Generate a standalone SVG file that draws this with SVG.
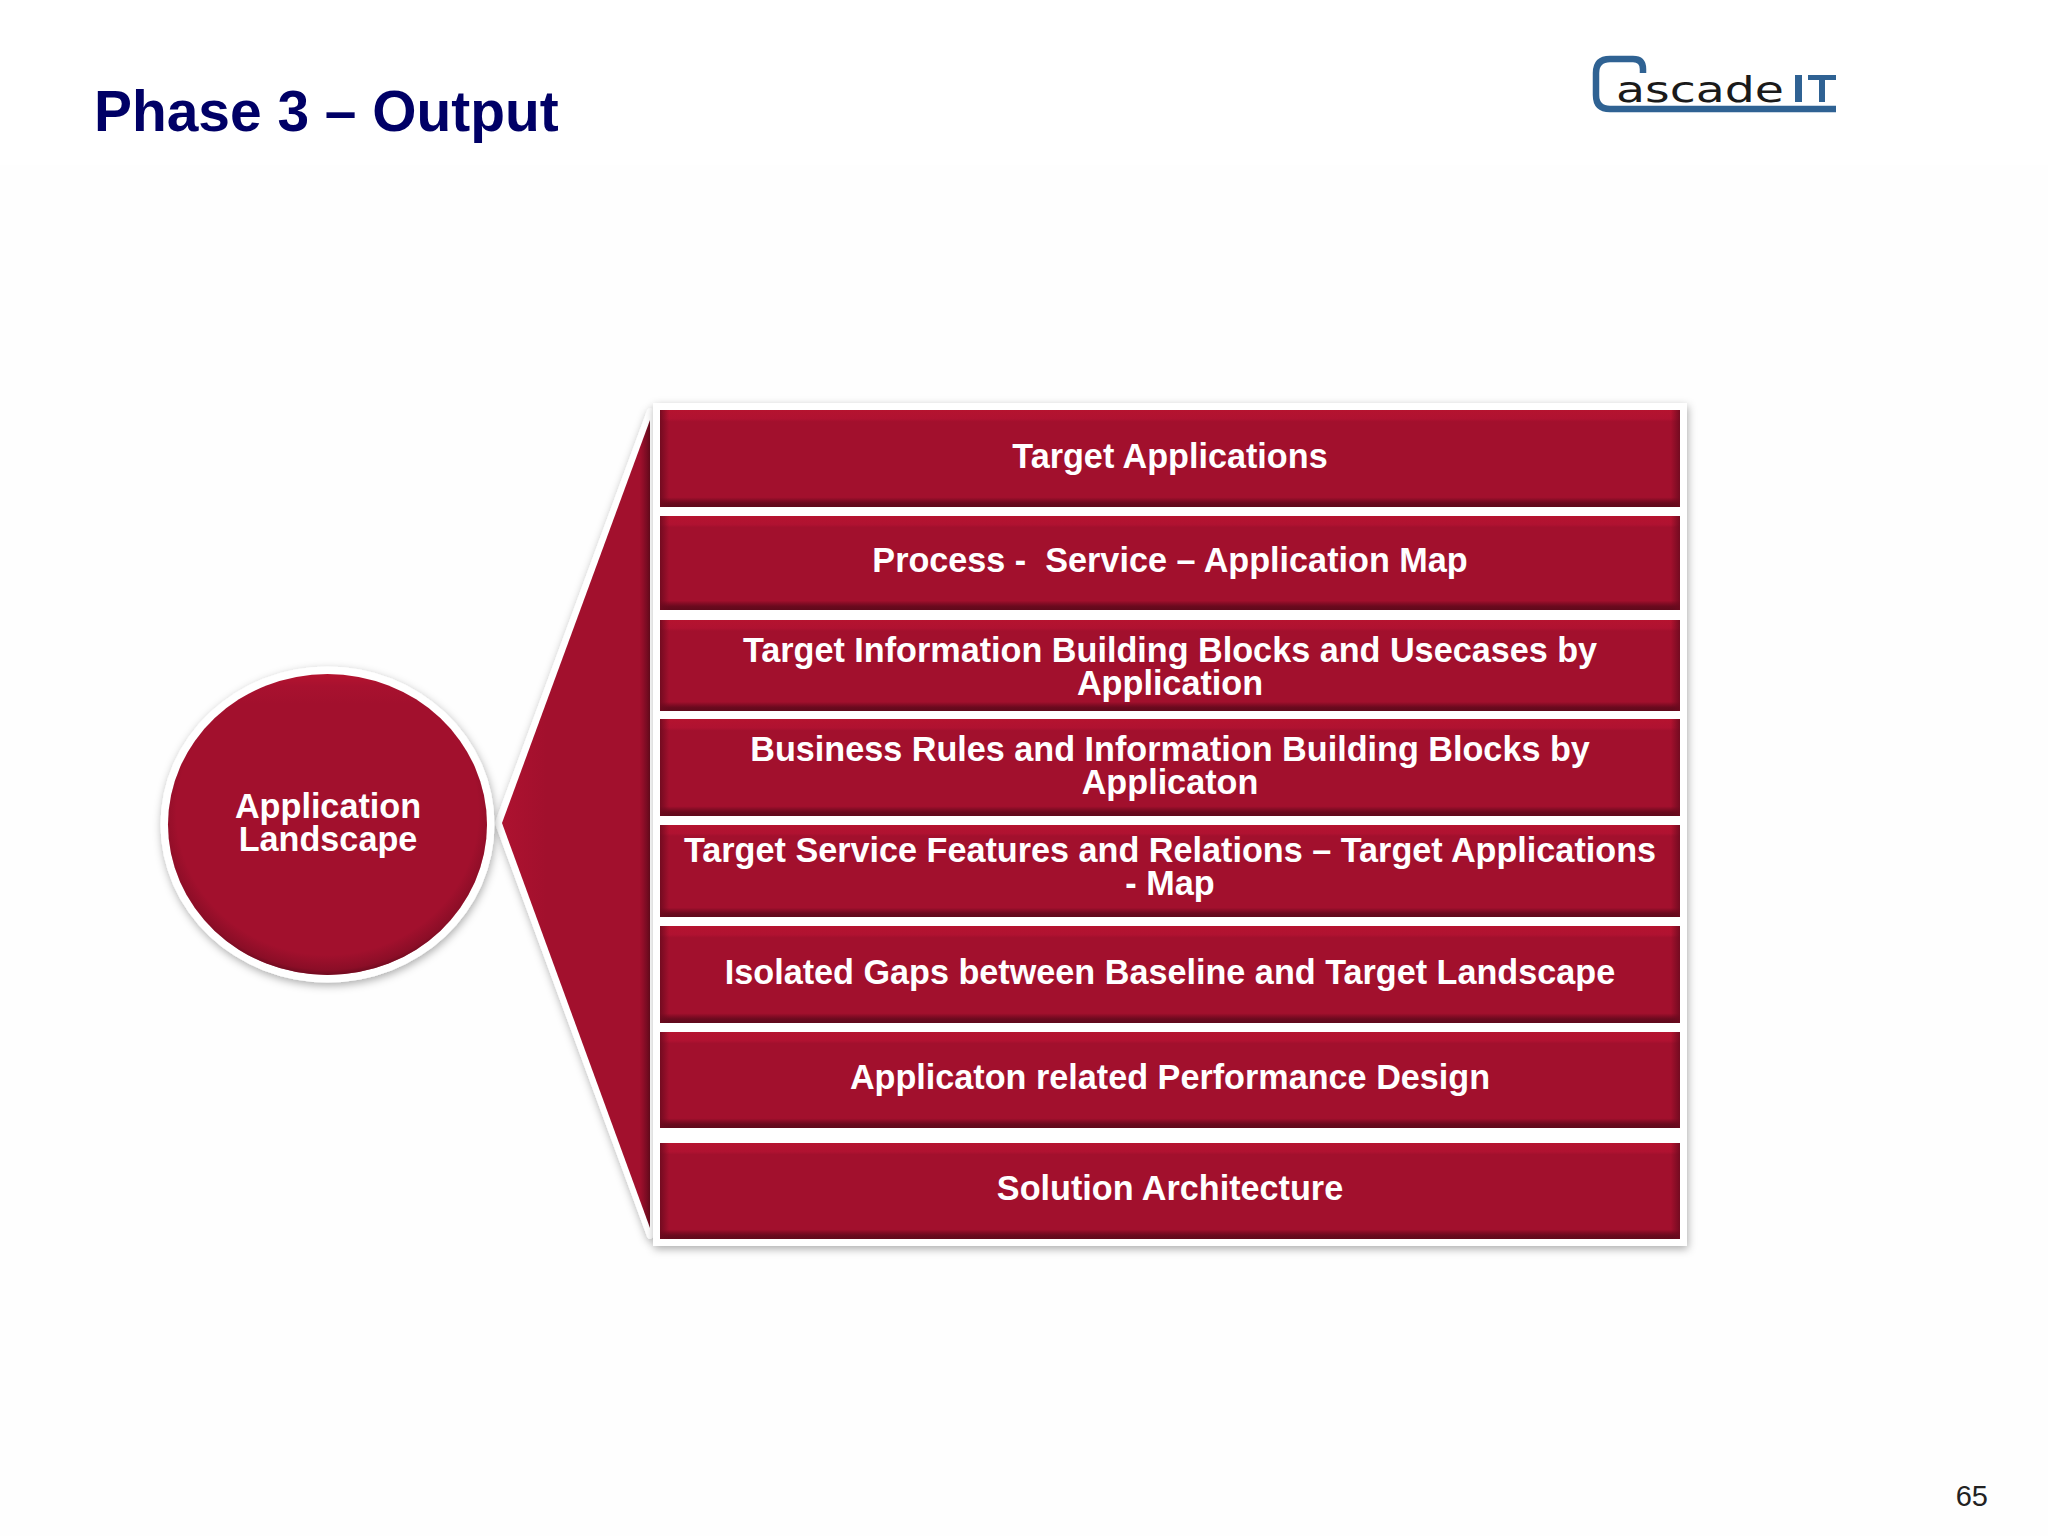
<svg xmlns="http://www.w3.org/2000/svg" width="2048" height="1536" viewBox="0 0 2048 1536">
<style>
text{font-family:"Liberation Sans",Arial,sans-serif}
.t{font-size:34.2px;font-weight:700;fill:#fff;text-anchor:middle;white-space:pre}
.w{fill:#fff;filter:url(#sh)}
.r{fill:url(#v)}
.o{fill:url(#h)}
</style>
<defs>
<filter id="sh" x="-10%" y="-10%" width="120%" height="120%"><feDropShadow dx="1" dy="3" stdDeviation="4" flood-color="#000" flood-opacity="0.32"/></filter>
<linearGradient id="v" x1="0" y1="0" x2="0" y2="1">
<stop offset="0" stop-color="#b5132f"/><stop offset="0.09" stop-color="#b01231"/><stop offset="0.12" stop-color="#a2102d"/><stop offset="0.9" stop-color="#a2102d"/><stop offset="0.93" stop-color="#850c25"/><stop offset="0.96" stop-color="#6a0a1e"/><stop offset="1" stop-color="#5f091b"/>
</linearGradient>
<linearGradient id="h" x1="0" y1="0" x2="1" y2="0">
<stop offset="0" stop-color="#6b0a1e" stop-opacity="0.85"/><stop offset="0.009" stop-color="#6b0a1e" stop-opacity="0"/><stop offset="0.991" stop-color="#6b0a1e" stop-opacity="0"/><stop offset="1" stop-color="#6b0a1e" stop-opacity="0.85"/>
</linearGradient>
<linearGradient id="c" x1="0" y1="0" x2="0" y2="1">
<stop offset="0" stop-color="#b5132f"/><stop offset="0.04" stop-color="#a8112f"/><stop offset="0.1" stop-color="#a2102d"/><stop offset="1" stop-color="#a2102d"/>
</linearGradient>
<radialGradient id="rim" cx="0.5" cy="0.46" r="0.55">
<stop offset="0.86" stop-color="#5f091b" stop-opacity="0"/><stop offset="0.95" stop-color="#5f091b" stop-opacity="0.35"/><stop offset="1" stop-color="#5f091b" stop-opacity="1"/>
</radialGradient>
<linearGradient id="tr" x1="0" y1="0" x2="1" y2="0">
<stop offset="0" stop-color="#ad1230"/><stop offset="0.3" stop-color="#a2102d"/><stop offset="0.93" stop-color="#a2102d"/><stop offset="0.96" stop-color="#8a0d27"/><stop offset="1" stop-color="#650a1c"/>
</linearGradient>
</defs>
<rect width="2048" height="1536" fill="#fefefe"/>
<rect width="2048" height="165" fill="#fff"/>
<text id="title" x="94" y="131" font-size="56.9" font-weight="700" fill="#000066">Phase 3 – Output</text>
<g id="logo">
<path d="M1643 73V69Q1643 59 1633 59H1610Q1596 59 1596 73V95Q1596 109 1610 109H1836" fill="none" stroke="#2f6293" stroke-width="6.5"/>
<text x="1616" y="102" font-size="35" textLength="168" lengthAdjust="spacingAndGlyphs" style="font-family:'DejaVu Sans',sans-serif" fill="#1a1a1a">ascade</text>
<path d="M1795 75h7v27h-7zM1808 75h28v5h-11v22h-6v-22h-11z" fill="#2f6293"/>
</g>
<g id="node-callout">
<path d="M650 411L498 823L650 1236Z" fill="#fff" stroke="#fff" stroke-width="6" stroke-linejoin="round" filter="url(#sh)"/>
<path d="M650 420L502 823L650 1228Z" fill="url(#tr)"/>
</g>
<g id="node-circle">
<ellipse cx="327.5" cy="824.5" rx="167" ry="158" class="w"/>
<ellipse cx="327.5" cy="824.5" rx="159.5" ry="150.5" fill="url(#c)"/>
<ellipse cx="327.5" cy="824.5" rx="159.5" ry="150.5" fill="url(#rim)"/>
<text class="t" x="328" y="818">Application</text>
<text class="t" x="328" y="851">Landscape</text>
</g>
<g id="node-frame"><rect x="653" y="403" width="1034" height="843" class="w"/></g>
<g id="node-1"><rect class="r" x="660" y="410" width="1020" height="97"/><rect class="o" x="660" y="410" width="1020" height="97"/><text class="t" x="1170" y="468">Target Applications</text></g>
<g id="node-2"><rect class="r" x="660" y="516" width="1020" height="94"/><rect class="o" x="660" y="516" width="1020" height="94"/><text class="t" x="1170" y="572">Process -  Service – Application Map</text></g>
<g id="node-3"><rect class="r" x="660" y="620" width="1020" height="91"/><rect class="o" x="660" y="620" width="1020" height="91"/><text class="t" x="1170" y="662">Target Information Building Blocks and Usecases by</text><text class="t" x="1170" y="695">Application</text></g>
<g id="node-4"><rect class="r" x="660" y="719" width="1020" height="97"/><rect class="o" x="660" y="719" width="1020" height="97"/><text class="t" x="1170" y="761">Business Rules and Information Building Blocks by</text><text class="t" x="1170" y="794">Applicaton</text></g>
<g id="node-5"><rect class="r" x="660" y="825" width="1020" height="92"/><rect class="o" x="660" y="825" width="1020" height="92"/><text class="t" x="1170" y="862">Target Service Features and Relations – Target Applications</text><text class="t" x="1170" y="895">- Map</text></g>
<g id="node-6"><rect class="r" x="660" y="926" width="1020" height="97"/><rect class="o" x="660" y="926" width="1020" height="97"/><text class="t" x="1170" y="984">Isolated Gaps between Baseline and Target Landscape</text></g>
<g id="node-7"><rect class="r" x="660" y="1032" width="1020" height="96"/><rect class="o" x="660" y="1032" width="1020" height="96"/><text class="t" x="1170" y="1089">Applicaton related Performance Design</text></g>
<g id="node-8"><rect class="r" x="660" y="1143" width="1020" height="96"/><rect class="o" x="660" y="1143" width="1020" height="96"/><text class="t" x="1170" y="1200">Solution Architecture</text></g>
<text id="page" x="1988" y="1506" font-size="29" text-anchor="end" fill="#222">65</text>
</svg>
